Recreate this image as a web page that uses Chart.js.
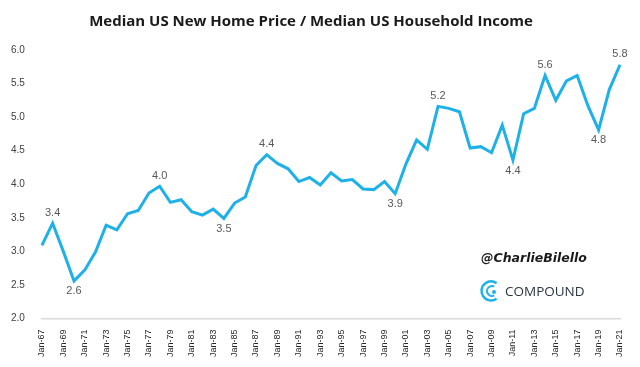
<!DOCTYPE html>
<html>
<head>
<meta charset="utf-8">
<script src="https://cdn.jsdelivr.net/npm/chart.js@4/dist/chart.umd.min.js"></script>
<style>
  html, body { margin: 0; padding: 0; background: #fff; }
  #wrap { width: 640px; height: 367px; }
</style>
</head>
<body>
<div id="wrap"><canvas id="chart" width="640" height="367"></canvas></div>
<script>
// Данные
const years = ['Jan-67','Jan-68','Jan-69','Jan-70','Jan-71','Jan-72','Jan-73','Jan-74','Jan-75','Jan-76',
  'Jan-77','Jan-78','Jan-79','Jan-80','Jan-81','Jan-82','Jan-83','Jan-84','Jan-85','Jan-86',
  'Jan-87','Jan-88','Jan-89','Jan-90','Jan-91','Jan-92','Jan-93','Jan-94','Jan-95','Jan-96',
  'Jan-97','Jan-98','Jan-99','Jan-00','Jan-01','Jan-02','Jan-03','Jan-04','Jan-05','Jan-06',
  'Jan-07','Jan-08','Jan-09','Jan-10','Jan-11','Jan-12','Jan-13','Jan-14','Jan-15','Jan-16',
  'Jan-17','Jan-18','Jan-19','Jan-20','Jan-21'];
const ratio = [3.09, 3.42, 3.00, 2.56, 2.72, 2.99, 3.39, 3.32, 3.56, 3.61,
  3.87, 3.97, 3.73, 3.77, 3.59, 3.54, 3.63, 3.49, 3.72, 3.81,
  4.28, 4.44, 4.31, 4.23, 4.04, 4.10, 3.99, 4.17, 4.05, 4.07,
  3.93, 3.92, 4.04, 3.86, 4.30, 4.66, 4.52, 5.16, 5.13, 5.08,
  4.54, 4.56, 4.47, 4.88, 4.36, 5.05, 5.13, 5.62, 5.25, 5.54,
  5.62, 5.17, 4.81, 5.41, 5.78];
// подписи точек: индекс и положение (сверху / снизу)
const labelIdx = [1, 3, 11, 17, 21, 33, 37, 44, 47, 52, 54];
const labelPos = ['top', 'bottom', 'top', 'bottom', 'top', 'bottom', 'top', 'bottom', 'top', 'bottom', 'top'];
const yTicks = [2.0, 2.5, 3.0, 3.5, 4.0, 4.5, 5.0, 5.5, 6.0];

const lineColor = '#1eb1e7';

// Подписи значений
const pointLabels = {
  id: 'pointLabels',
  afterDatasetsDraw(chart) {
    const ctx = chart.ctx;
    const meta = chart.getDatasetMeta(0);
    ctx.save();
    ctx.font = '11px "Liberation Sans", Arial, sans-serif';
    ctx.fillStyle = '#595959';
    ctx.textAlign = 'center';
    labelIdx.forEach((i, k) => {
      const p = meta.data[i];
      if (labelPos[k] === 'top') {
        ctx.textBaseline = 'bottom';
        ctx.fillText(ratio[i].toFixed(1), p.x, p.y - 5);
      } else {
        ctx.textBaseline = 'top';
        ctx.fillText(ratio[i].toFixed(1), p.x, p.y + 5);
      }
    });
    ctx.restore();
  }
};

// Водяной знак
const watermark = {
  id: 'watermark',
  afterDraw(chart) {
    const ctx = chart.ctx;
    ctx.save();
    ctx.fillStyle = '#1a1a1a';
    ctx.font = 'italic bold 12.5px "DejaVu Sans", sans-serif';
    ctx.textAlign = 'left';
    ctx.textBaseline = 'middle';
    ctx.fillText('@CharlieBilello', 481, 259);
    // логотип
    ctx.strokeStyle = lineColor;
    ctx.lineWidth = 2.5;
    ctx.beginPath();
    ctx.arc(491, 291, 9.5, Math.PI * 0.3, Math.PI * 1.7);
    ctx.stroke();
    ctx.lineWidth = 2;
    ctx.beginPath();
    ctx.arc(492, 291, 5, Math.PI * 0.35, Math.PI * 1.65);
    ctx.stroke();
    ctx.fillStyle = lineColor;
    ctx.beginPath();
    ctx.arc(494, 292, 2, 0, Math.PI * 2);
    ctx.fill();
    ctx.fillStyle = '#2b3442';
    ctx.font = '13.5px "Open Sans", sans-serif';
    ctx.fillText('COMPOUND', 505, 292);
    ctx.restore();
  }
};

new Chart(document.getElementById('chart'), {
  type: 'line',
  data: {
    labels: years,
    datasets: [{
      data: ratio,
      borderColor: lineColor,
      borderWidth: 3,
      pointRadius: 0,
      tension: 0,
      fill: false
    }]
  },
  options: {
    responsive: false,
    animation: false,
    layout: { padding: { left: 2, right: 20, top: 4, bottom: 7 } },
    plugins: {
      legend: { display: false },
      tooltip: { enabled: false },
      title: {
        display: true,
        text: 'Median US New Home Price / Median US Household Income',
        color: '#1a1a1a',
        font: { family: '"Open Sans", sans-serif', size: 15, weight: 'bold' },
        padding: { top: 9, bottom: 19 }
      }
    },
    scales: {
      x: {
        offset: false,
        grid: { display: false },
        border: { color: '#d9d9d9', width: 1.5 },
        ticks: {
          autoSkip: false,
          maxRotation: 90,
          minRotation: 90,
          color: '#262626',
          font: { family: '"Liberation Sans", Arial, sans-serif', size: 9 },
          callback: function(val, i) { return i % 2 === 0 ? years[i] : ''; }
        }
      },
      y: {
        min: 2,
        max: 6,
        afterBuildTicks: axis => { axis.ticks = yTicks.map(v => ({ value: v })); },
        grid: { display: false },
        border: { display: false },
        ticks: {
          color: '#404040',
          padding: 9,
          font: { family: '"Liberation Sans", Arial, sans-serif', size: 10 },
          callback: v => Number(v).toFixed(1)
        }
      }
    }
  },
  plugins: [pointLabels, watermark]
});
</script>
</body>
</html>
